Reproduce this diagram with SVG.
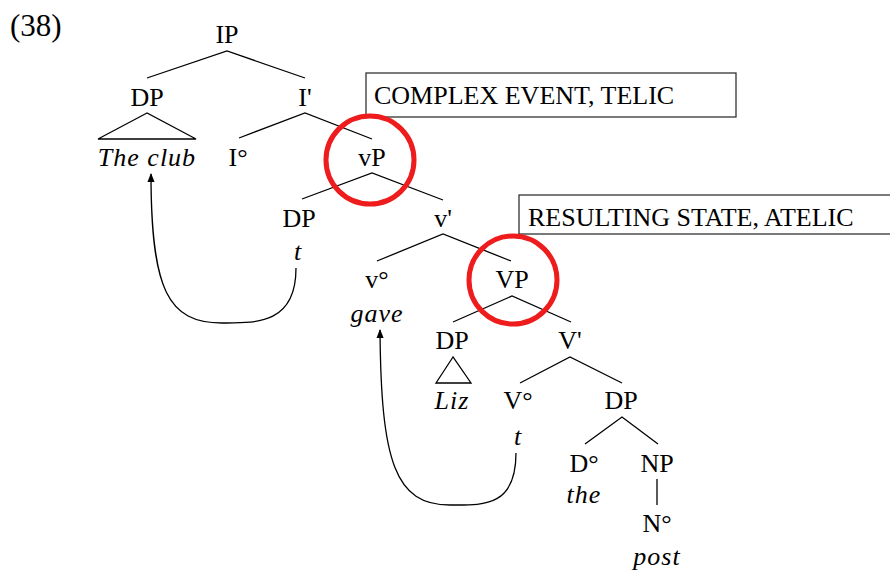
<svg xmlns="http://www.w3.org/2000/svg" width="890" height="570" viewBox="0 0 890 570">
<defs>
<style>
text{font-family:"Liberation Serif","Times New Roman",serif;font-size:26px;fill:#000}
.c{text-anchor:middle}
.i{font-style:italic;letter-spacing:1px}
.br{stroke:#000;stroke-width:1.3;fill:none}
.ring{fill:none;stroke:#ee1c1c;stroke-width:5}
.box{fill:#fff;stroke:#333;stroke-width:1.3}
.mv{fill:none;stroke:#000;stroke-width:1.3}
</style>
<marker id="ah" viewBox="0 0 10 10" refX="9" refY="5" markerWidth="9" markerHeight="9" markerUnits="userSpaceOnUse" orient="auto">
<path d="M0,1 L10,5 L0,9 Z" fill="#000"/>
</marker>
</defs>
<rect width="890" height="570" fill="#fff"/>
<text x="10" y="36" style="font-size:31px">(38)</text>

<g id="boxes">
<g id="box-complex"><rect class="box" x="366" y="73" width="370" height="44"/><text x="374" y="104">COMPLEX EVENT, TELIC</text></g>
<g id="box-resulting"><rect class="box" x="519" y="195" width="380" height="39"/><text x="528" y="226">RESULTING STATE, ATELIC</text></g>
</g>

<g id="connectors">
<path class="br" d="M147,78 L227,51 L305,78"/>
<path class="br" d="M147,113 L98,139 L196,139 Z"/>
<path class="br" d="M239,138 L305,113 L372,139"/>
<path class="br" d="M302,199 L372,173 L443,200"/>
<path class="br" d="M377,261 L443,234 L511,261"/>
<path class="br" d="M453,322 L512,296 L571,322"/>
<path class="br" d="M453,357 L436,383 L471,383 Z"/>
<path class="br" d="M520,383 L570,357 L622,383"/>
<path class="br" d="M585,444 L622,417 L658,444"/>
<path class="br" d="M657,479 L657,505"/>
<path class="mv" marker-end="url(#ah)" d="M296,268 C296,325 255,323 222,323 C168,323 151,290 151,174"/>
<path class="mv" marker-end="url(#ah)" d="M516,453 C516,508 482,505 450,505 C395,505 381,462 380,330"/>
</g>

<g id="n-IP"><text class="c" x="227" y="43">IP</text></g>
<g id="n-DP1"><text class="c" x="147" y="106">DP</text><text class="c i" x="147" y="166">The club</text></g>
<g id="n-Ibar"><text class="c" x="305" y="106">I'</text></g>
<g id="n-I0"><text class="c" x="238" y="166">I°</text></g>
<g id="n-vP"><text class="c" x="372" y="166">vP</text><circle class="ring" cx="370" cy="160" r="44"/></g>
<g id="n-DP2"><text class="c" x="299" y="227">DP</text><text class="c i" x="298" y="260">t</text></g>
<g id="n-vbar"><text class="c" x="443" y="227">v'</text></g>
<g id="n-v0"><text class="c" x="377" y="288">v°</text><text class="c i" x="377" y="322">gave</text></g>
<g id="n-VP"><text class="c" x="512" y="288">VP</text><circle class="ring" cx="513" cy="280" r="44"/></g>
<g id="n-DP3"><text class="c" x="452" y="349">DP</text><text class="c i" x="452" y="409">Liz</text></g>
<g id="n-Vbar"><text class="c" x="570" y="349">V'</text></g>
<g id="n-V0"><text class="c" x="518" y="409">V°</text><text class="c i" x="518" y="445">t</text></g>
<g id="n-DP4"><text class="c" x="621" y="409">DP</text></g>
<g id="n-D0"><text class="c" x="584" y="472">D°</text><text class="c i" x="584" y="503">the</text></g>
<g id="n-NP"><text class="c" x="657" y="472">NP</text></g>
<g id="n-N0"><text class="c" x="657" y="532">N°</text><text class="c i" x="657" y="565">post</text></g>
</svg>
